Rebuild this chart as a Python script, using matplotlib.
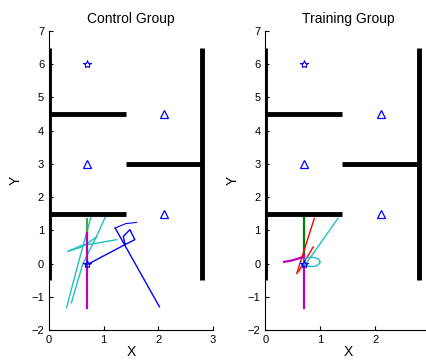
import numpy as np
import matplotlib.pyplot as plt

plt.rcParams['font.family'] = ['Liberation Sans', 'DejaVu Sans']
plt.rcParams['font.size'] = 8

# maze walls: (x0, x1, y0, y1)
walls = [
    (0, 0, -0.5, 6.5),
    (0, 1.4, 4.5, 4.5),
    (0, 1.4, 1.5, 1.5),
    (1.4, 2.8, 3, 3),
    (2.8, 2.8, -0.5, 6.5),
]
star_x = [0.7, 0.7]
star_y = [6, 0]
tri_x = [2.1, 0.7, 2.1]
tri_y = [4.5, 3, 1.5]

# control group trajectories (x list, y list, colour, width)
control_paths = [
    ([0.32, 0.55, 0.78], [-1.33, 0.1, 1.47], '#20c0c0', 1.0),
    ([0.41, 0.62, 0.87, 1.05], [-1.18, 0.0, 0.82, 1.47], '#20c0c0', 1.0),
    ([0.35, 0.6, 0.9, 1.24], [0.37, 0.55, 0.62, 0.72], '#20c0c0', 1.0),
    ([0.35, 0.6, 0.87], [0.37, 0.5, 0.8], '#20c0c0', 1.0),
    ([0.7, 0.7], [-1.33, 0.97], '#bb00bb', 1.6),
    ([0.7, 0.7], [0.97, 1.33], '#50a050', 1.6),
    ([0.7, 1.39, 1.57, 1.48, 1.36, 1.39], [-0.03, 0.57, 0.72, 1.02, 0.82, 0.57], '#0000ff', 1.0),
    ([2.02, 1.21], [-1.3, 1.07], '#0000ff', 1.0),
    ([1.21, 1.4, 1.6], [1.07, 1.2, 1.24], '#0000ff', 0.8),
]

# training group trajectories
ang = np.linspace(0, 2 * np.pi, 40)
loop_x = list(0.84 + 0.15 * np.cos(ang))
loop_y = list(0.05 + 0.14 * np.sin(ang))
training_paths = [
    ([0.7, 0.7], [0.26, 1.46], '#008000', 1.6),
    ([0.7, 0.7], [-1.35, 0.26], '#bb00bb', 1.6),
    ([0.34, 0.5, 0.69], [0.05, 0.1, 0.2], '#bb00bb', 1.6),
    ([0.57, 0.89], [-0.3, 1.36], '#ff0000', 1.0),
    ([0.6, 0.87], [-0.25, 0.5], '#ff0000', 1.0),
    ([0.72, 1.32], [-0.05, 1.36], '#20c0c0', 1.0),
    (loop_x, loop_y, '#20c0c0', 1.0),
]

fig = plt.figure(figsize=(4.26, 3.6), dpi=100)
axes = [fig.add_axes([0.115, 0.0833, 0.385, 0.8306]),
        fig.add_axes([0.623, 0.0833, 0.387, 0.8306])]
titles = ['Control Group', 'Training Group']
xlabels = [['0', '1', '2', '3'], ['0', '1', '2', '']]

for ax, title, paths, xl in zip(axes, titles, [control_paths, training_paths], xlabels):
    for px, py, c, lw in paths:
        ax.plot(px, py, color=c, lw=lw)
    for x0, x1, y0, y1 in walls:
        ax.plot([x0, x1], [y0, y1], color='black', lw=3.5, solid_capstyle='butt')
    ax.plot(star_x, star_y, '*', mfc='none', mec='blue', ms=6, mew=0.8)
    ax.plot(tri_x, tri_y, '^', mfc='none', mec='blue', ms=6, mew=0.9)
    ax.set_xlim(0, 3)
    ax.set_ylim(-2, 7)
    ax.set_xticks([0, 1, 2, 3])
    ax.set_xticklabels(xl)
    ax.set_yticks(range(-2, 8))
    ax.tick_params(direction='in', length=3, labelsize=8)
    ax.spines['top'].set_visible(False)
    ax.spines['right'].set_visible(False)
    ax.set_title(title, fontsize=10)
    ax.set_xlabel('X', fontsize=10, labelpad=0)
    ax.set_ylabel('Y', fontsize=10, labelpad=6)

fig.savefig('out.png', dpi=100)
